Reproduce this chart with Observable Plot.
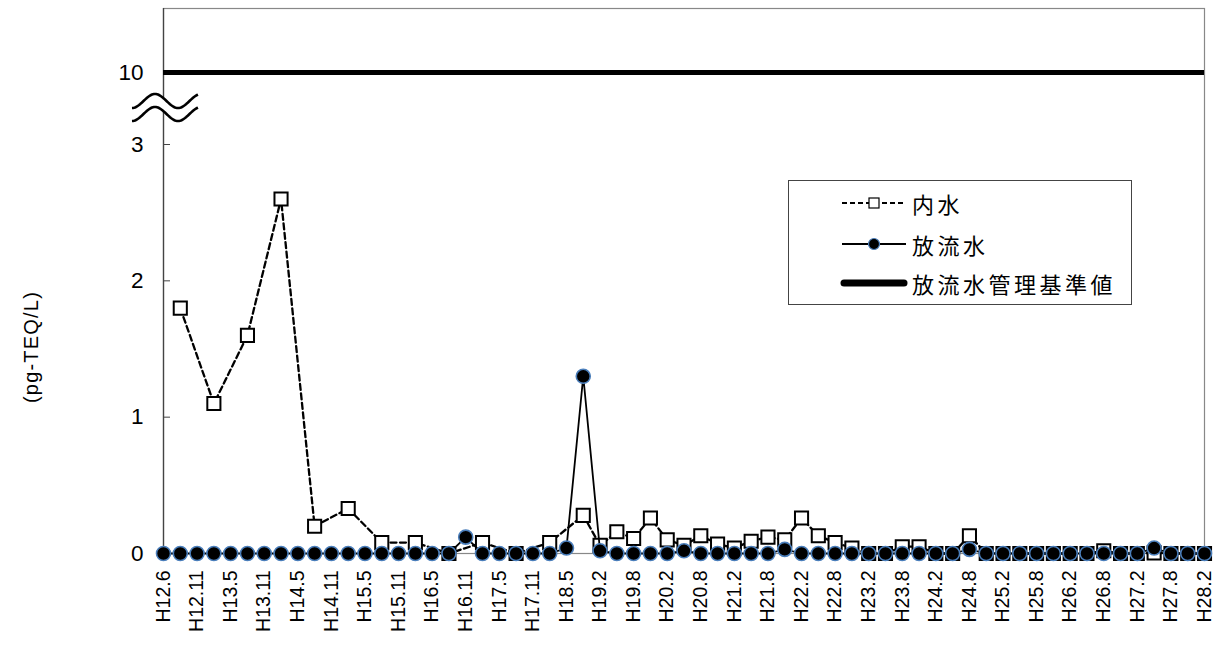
<!DOCTYPE html>
<html><head><meta charset="utf-8">
<script src="https://cdn.jsdelivr.net/npm/d3@7"></script>
<script src="https://cdn.jsdelivr.net/npm/@observablehq/plot@0.6"></script>
<style>
body{margin:0;background:#fff;}
#wrap{position:relative;width:1226px;height:646px;overflow:hidden;font-family:"Liberation Sans",Arial,sans-serif;}
#ytitle{position:absolute;left:31px;top:347px;transform:translate(-50%,-50%) rotate(-90deg);font-size:20px;letter-spacing:1.2px;white-space:nowrap;color:#000;}
#legend{position:absolute;left:788px;top:180px;width:344px;height:125px;border:1.5px solid #444;background:#fff;box-sizing:border-box;}
.sw{position:absolute;left:51px;width:68px;height:20px;}
.lt{position:absolute;left:123px;font-family:"Noto Sans CJK JP","Noto Sans CJK SC",sans-serif;font-size:22px;letter-spacing:3.5px;line-height:30px;height:30px;white-space:nowrap;color:#000;}
</style></head>
<body>
<div id="wrap">
  <div id="ytitle">(pg-TEQ/L)</div>
</div>
<script>
const xLabels = ["H12.6","H12.11","H13.5","H13.11","H14.5","H14.11","H15.5","H15.11","H16.5","H16.11","H17.5","H17.11","H18.5","H19.2","H19.8","H20.2","H20.8","H21.2","H21.8","H22.2","H22.8","H23.2","H23.8","H24.2","H24.8","H25.2","H25.8","H26.2","H26.8","H27.2","H27.8","H28.2"];

// 内水 (null = no measurement)
const naisui = [
  null,1.8,null,1.1,null,1.6,null,2.6,null,0.2,
  null,0.33,null,0.08,null,0.08,null,0,null,0.08,
  null,0,null,0.08,null,0.28,0.06,0.16,0.11,0.26,
  0.1,0.06,0.13,0.07,0.04,0.09,0.12,0.1,0.26,0.13,
  0.08,0.04,0,0,0.05,0.05,0,0,0.13,0,
  0,0,0,0,0,0,0.02,0,0,0.005,
  0,0,0
];
// 放流水
const houryuusui = [
  0,0,0,0,0,0,0,0,0,0,
  0,0,0,0,0,0,0,0,0.12,0,
  0,0,0,0,0.04,1.3,0.02,0,0,0,
  0,0.02,0,0,0,0,0,0.03,0,0,
  0,0,0,0,0,0,0,0,0.03,0,
  0,0,0,0,0,0,0,0,0,0.04,
  0,0,0
];
// 放流水管理基準値
const standard = [10];
const yTicks = [0,1,2,3,10];
const seriesNames = ["内水","放流水","放流水管理基準値"];

const rowsN = naisui.map((v,i)=>({i,v})).filter(d=>d.v!==null);
const rowsH = houryuusui.map((v,i)=>({i,v}));

const chart = Plot.plot({
  width:1226, height:646,
  marginLeft:163, marginRight:22, marginTop:8, marginBottom:93,
  style:{fontFamily:"'Liberation Sans', Arial, sans-serif", fontSize:"18px", color:"#000", background:"transparent", overflow:"visible"},
  x:{type:"linear", domain:[0,62]},
  y:{type:"linear", domain:[0,3,10,11], range:[553,144,72,8]},
  marks:[
    Plot.frame({stroke:"#888", strokeWidth:1.2}),
    Plot.ruleX([0],{stroke:"#444", strokeWidth:1.3}),
    Plot.axisY({ticks:yTicks, tickSize:-7, tickPadding:27, fontSize:22.5, label:null, stroke:"#444"}),
    Plot.axisX({ticks:d3.range(0,63,2), tickFormat:i=>xLabels[i/2], tickRotate:-90, tickSize:0, tickPadding:17, fontSize:19.5, label:null}),
    Plot.line(rowsN,{x:"i", y:"v", stroke:"#000", strokeWidth:2.3, strokeDasharray:"6,3.5"}),
    Plot.dot(rowsN,{x:"i", y:"v", symbol:"square", r:7.4, fill:d=>d.v===0?"#000":"#fff", stroke:"#000", strokeWidth:2}),
    Plot.line(rowsH,{x:"i", y:"v", stroke:"#000", strokeWidth:1.8}),
    Plot.dot(rowsH,{x:"i", y:"v", r:7, fill:"#000", stroke:"#4a7ebb", strokeWidth:1.6}),
    Plot.ruleY(standard,{stroke:"#000", strokeWidth:5})
  ]
});
document.getElementById("wrap").prepend(chart);

// axis break symbol
const sx = chart.scale("x"), sy = chart.scale("y");
const cx = sx.apply(0), mid = (sy.apply(3)+sy.apply(10))/2;
const yU = mid - 7, yL = mid + 6;
const pts = d3.range(-31, 35.5, 1).map(dx => [cx+dx, -7*Math.cos(2*Math.PI*(dx+8)/46)]);
const up = pts.map(([x,y])=>[x, yU+y]);
const lo = pts.map(([x,y])=>[x, yL+y]);
const g = d3.select(chart).append("g");
g.append("path").attr("d","M"+up.join("L")+"L"+lo.slice().reverse().join("L")+"Z").attr("fill","#fff");
g.append("path").attr("d",d3.line()(up)).attr("fill","none").attr("stroke","#000").attr("stroke-width",2.6);
g.append("path").attr("d",d3.line()(lo)).attr("fill","none").attr("stroke","#000").attr("stroke-width",2.6);

// legend
const lg = document.createElement("div");
lg.id = "legend";
const rowY = [23, 64, 103];
const swatches = [
  `<line x1="2" y1="10" x2="66" y2="10" stroke="#000" stroke-width="1.8" stroke-dasharray="5,3"/><rect x="29" y="5" width="10" height="10" fill="#fff" stroke="#000" stroke-width="1.2"/>`,
  `<line x1="2" y1="10" x2="66" y2="10" stroke="#000" stroke-width="2"/><circle cx="34" cy="10" r="5.5" fill="#000" stroke="#4a7ebb" stroke-width="1.2"/>`,
  `<line x1="4" y1="10" x2="64" y2="10" stroke="#000" stroke-width="7" stroke-linecap="round"/>`
];
seriesNames.forEach((name,k)=>{
  const s = document.createElement("div");
  s.className = "sw"; s.style.top = (rowY[k]-10-1.5)+"px";
  s.innerHTML = `<svg width="68" height="20">${swatches[k]}</svg>`;
  lg.appendChild(s);
  const t = document.createElement("div");
  t.className = "lt"; t.style.top = (rowY[k]-15-1.5)+"px";
  t.textContent = name;
  lg.appendChild(t);
});
document.getElementById("wrap").appendChild(lg);
</script>
</body></html>
